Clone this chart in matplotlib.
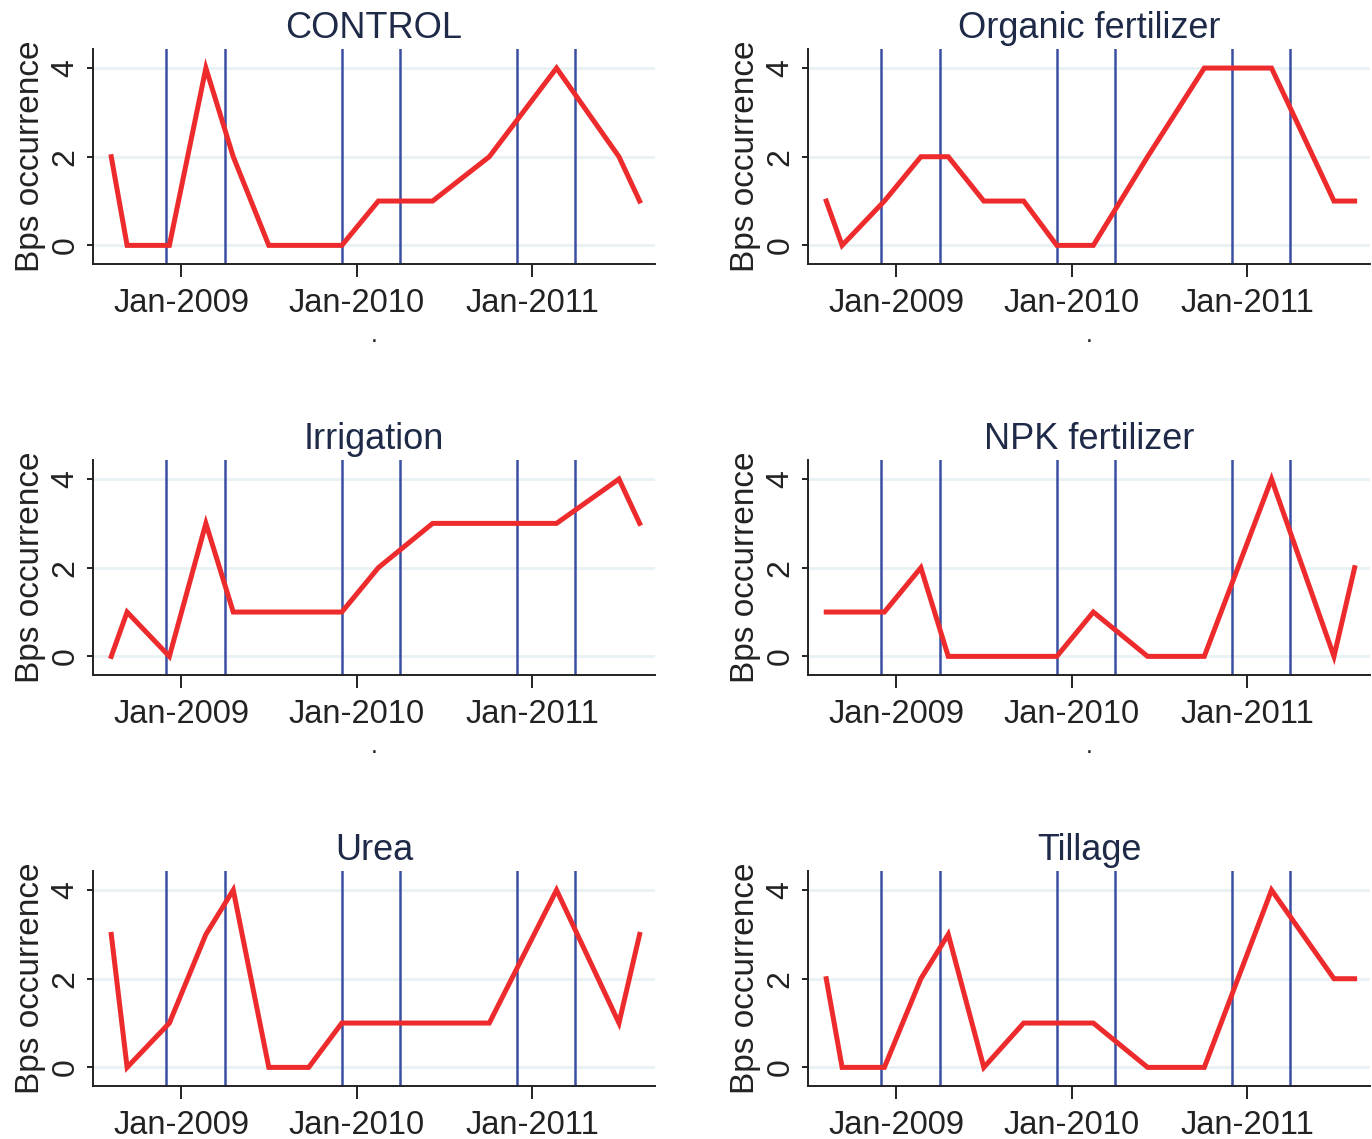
import pandas as pd
import matplotlib
matplotlib.use('Agg')
import matplotlib.pyplot as plt
import matplotlib.dates as mdates

plt.rcParams['font.family'] = ['Liberation Sans', 'DejaVu Sans']

# Sampling dates
dates = pd.to_datetime(['2008-08-08', '2008-09-10', '2008-12-07', '2009-02-21',
                        '2009-04-19', '2009-07-02', '2009-09-23', '2009-12-01',
                        '2010-02-15', '2010-06-08', '2010-10-04', '2011-02-21',
                        '2011-07-01', '2011-08-13'])

# Vertical reference lines
ref_dates = pd.to_datetime(['2008-12-01', '2009-04-01', '2009-12-01',
                            '2010-04-01', '2010-12-01', '2011-04-01'])

titles = ['CONTROL', 'Organic fertilizer', 'Irrigation', 'NPK fertilizer', 'Urea', 'Tillage']

control = [2, 0, 0, 4, 2, 0, 0, 0, 1, 1, 2, 4, 2, 1]
organic = [1, 0, 1, 2, 2, 1, 1, 0, 0, 2, 4, 4, 1, 1]
irrigation = [0, 1, 0, 3, 1, 1, 1, 1, 2, 3, 3, 3, 4, 3]
npk = [1, 1, 1, 2, 0, 0, 0, 0, 1, 0, 0, 4, 0, 2]
urea = [3, 0, 1, 3, 4, 0, 0, 1, 1, 1, 1, 4, 1, 3]
tillage = [2, 0, 0, 2, 3, 0, 1, 1, 1, 0, 0, 4, 2, 2]

series = [control, organic, irrigation, npk, urea, tillage]

year_ticks = pd.to_datetime(['2009-01-01', '2010-01-01', '2011-01-01'])
x_lo = pd.Timestamp('2008-07-01')
x_hi = pd.Timestamp('2011-09-14')

fig = plt.figure(figsize=(13.72, 11.39), dpi=100)

W, H = 1372, 1139
lefts = [93, 808]
bottoms = [264, 675, 1086]
aw, ah = 562, 215

red = '#ee2b2c'
blue = '#3a4ea3'
navy = '#1e2a47'

for i, (title, vals) in enumerate(zip(titles, series)):
    r, c = divmod(i, 2)
    ax = fig.add_axes([lefts[c] / W, 1 - bottoms[r] / H, aw / W, ah / H])

    for y in [0, 2, 4]:
        ax.axhline(y, color='#e8f1f3', lw=2, zorder=0)
    for d in ref_dates:
        ax.axvline(d, color=blue, lw=1.8, zorder=1)
    ax.plot(dates, vals, color=red, lw=3.6, solid_joinstyle='miter', zorder=2)

    ax.set_xlim(x_lo, x_hi)
    ax.set_ylim(-0.42, 4.43)
    ax.set_yticks([0, 2, 4])
    ax.set_yticklabels(['0', '2', '4'], rotation=90, va='center')
    ax.set_xticks(year_ticks)
    ax.xaxis.set_major_formatter(mdates.DateFormatter('%b-%Y'))

    ax.spines['top'].set_visible(False)
    ax.spines['right'].set_visible(False)
    for s in ['left', 'bottom']:
        ax.spines[s].set_linewidth(1.4)
        ax.spines[s].set_color('#222222')

    ax.tick_params(axis='x', length=9, width=1.4, pad=8, labelsize=23.5, colors='#222222')
    ax.tick_params(axis='y', length=4, width=1.4, pad=5, labelsize=23, colors='#222222')

    ax.set_title(title, fontsize=26, color=navy, pad=8)
    ax.set_ylabel('Bps occurrence', fontsize=24, color='#222222', labelpad=3)
    if r < 2:
        ax.set_xlabel('.', fontsize=18, color='#222222', labelpad=3)

plt.savefig('out.png', dpi=100)
